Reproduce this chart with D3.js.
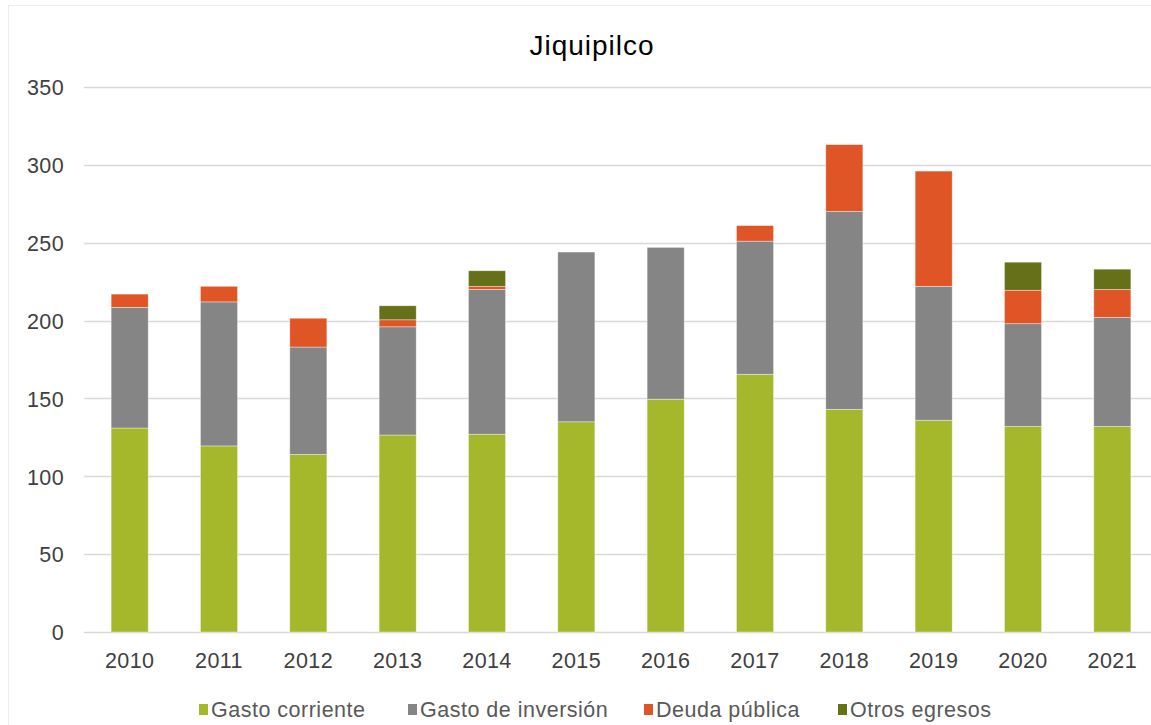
<!DOCTYPE html>
<html>
<head>
    <meta charset="utf-8">
    <title>Jiquipilco</title>
    <script src="https://d3js.org/d3.v7.min.js"></script>
    <style>
        body { margin: 0; background: #fff; }
        svg { display: block; font-family: "Liberation Sans", Arial, sans-serif; }
        .tick text { fill: #404040; font-size: 21.5px; letter-spacing: 0.4px; }
        .legend text { fill: #595959; font-size: 21.5px; letter-spacing: 0.5px; }
    </style>
</head>
<body>
<div id="chart"></div>
<script>
    // data
    const years = ["2010", "2011", "2012", "2013", "2014", "2015", "2016", "2017", "2018", "2019", "2020", "2021"];
    const gastoCorriente = [131, 119.5, 114, 126.5, 127, 135, 149.5, 165.5, 143, 136, 132, 132];
    const gastoInversion = [77.5, 92.5, 69, 69.5, 93, 109, 97.5, 85.5, 127, 86, 66, 70];
    const deudaPublica  = [8.5, 10, 18.5, 4.5, 2, 0, 0, 10, 43, 74, 21.5, 18];
    const otrosEgresos  = [0, 0, 0, 9, 10, 0, 0, 0, 0, 0, 18, 13];
    const seriesNames = ["Gasto corriente", "Gasto de inversión", "Deuda pública", "Otros egresos"];
    const seriesColors = ["#a5b72a", "#858585", "#e05526", "#667018"];
    const yTicks = [0, 50, 100, 150, 200, 250, 300, 350];

    const width = 1151, height = 725;
    const svg = d3.select("#chart").append("svg")
        .attr("width", width)
        .attr("height", height);

    // faint chart-area frame (runs off the right edge like the source)
    svg.append("rect")
        .attr("x", 8.5).attr("y", 5.5)
        .attr("width", 1200).attr("height", 760)
        .attr("fill", "none")
        .attr("stroke", "#ececec");

    const rows = years.map((y, i) => ({
        year: y,
        s0: gastoCorriente[i],
        s1: gastoInversion[i],
        s2: deudaPublica[i],
        s3: otrosEgresos[i]
    }));
    const stack = d3.stack().keys(["s0", "s1", "s2", "s3"])(rows);

    const x = d3.scaleBand().domain(years).range([85, 1157]).paddingInner(0.585).paddingOuter(0.2925);
    const y = d3.scaleLinear().domain([0, 350]).range([632, 87]);

    // gridlines
    svg.append("g")
        .selectAll("line")
        .data(yTicks)
        .join("line")
        .attr("x1", 84).attr("x2", 1160)
        .attr("y1", d => Math.round(y(d)) + 0.5)
        .attr("y2", d => Math.round(y(d)) + 0.5)
        .attr("stroke", "#d9d9d9")
        .attr("stroke-width", 1.5);

    // y axis labels
    const yAxis = svg.append("g")
        .attr("transform", "translate(64,0)")
        .call(d3.axisLeft(y).tickValues(yTicks).tickSize(0).tickPadding(0));
    yAxis.select(".domain").remove();
    yAxis.selectAll("text").attr("dy", "0.36em");

    // bars
    svg.append("g")
        .selectAll("g")
        .data(stack)
        .join("g")
        .attr("fill", (d, i) => seriesColors[i])
        .selectAll("rect")
        .data(d => d.filter(p => p[1] - p[0] > 0))
        .join("rect")
        .attr("x", d => x(d.data.year))
        .attr("width", x.bandwidth())
        .attr("y", d => y(d[1]))
        .attr("height", d => y(d[0]) - y(d[1]))
        .attr("stroke", "#ffffff")
        .attr("stroke-opacity", 0.5)
        .attr("stroke-width", 0.75);

    // x axis labels
    const xAxis = svg.append("g")
        .attr("transform", "translate(0,668)")
        .call(d3.axisBottom(x).tickSize(0).tickPadding(0));
    xAxis.select(".domain").remove();
    xAxis.selectAll("text").attr("dy", "0");

    // title
    svg.append("text")
        .attr("x", 592).attr("y", 55)
        .attr("text-anchor", "middle")
        .attr("fill", "#000")
        .attr("font-size", 28)
        .attr("letter-spacing", 1)
        .text("Jiquipilco");

    // legend
    const legendX = [199, 408, 644, 838];
    const legend = svg.append("g").attr("class", "legend")
        .selectAll("g")
        .data(seriesNames)
        .join("g")
        .attr("transform", (d, i) => `translate(${legendX[i]},709)`);
    legend.append("rect")
        .attr("x", 0).attr("y", -5)
        .attr("width", 9).attr("height", 11)
        .attr("fill", (d, i) => seriesColors[i]);
    legend.append("text")
        .attr("x", 12).attr("dy", "0.36em")
        .text(d => d);
</script>
</body>
</html>
